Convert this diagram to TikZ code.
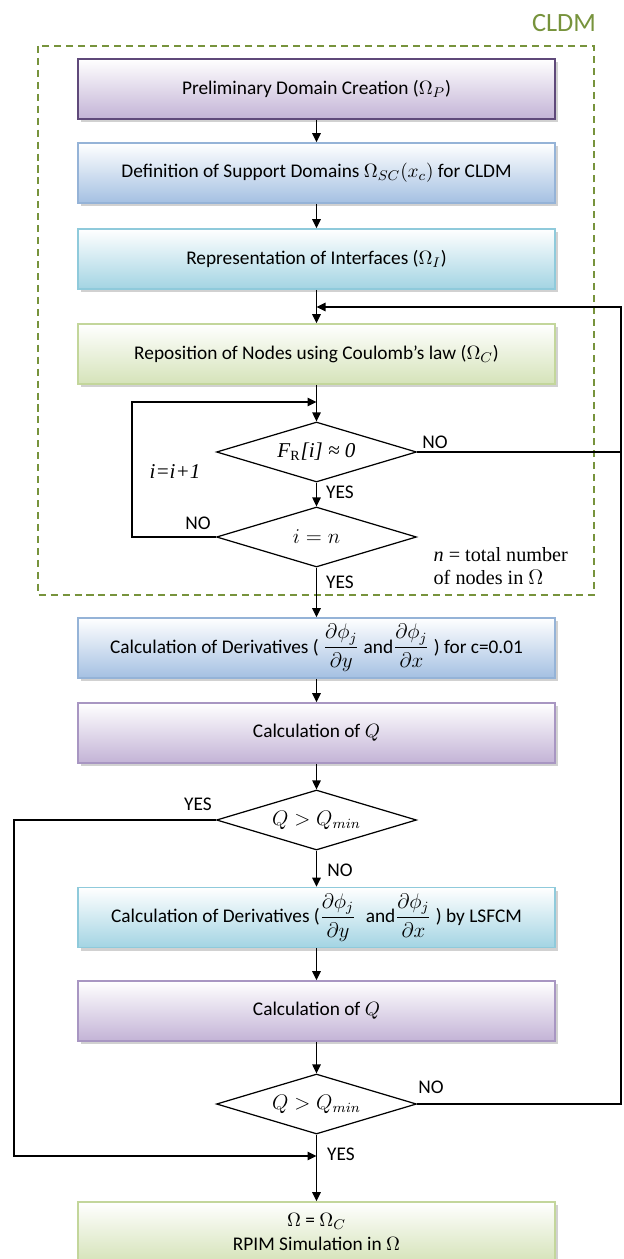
\documentclass[tikz,border=0pt]{standalone}
\usepackage{amsmath}
\usepackage{fontspec}
\setmainfont{Carlito}
\newfontfamily\tnr{Liberation Serif}
\usetikzlibrary{shapes.geometric,arrows.meta,shadows}

\definecolor{cldmgreen}{HTML}{77933C}
\definecolor{purplefill}{HTML}{C3B3D6}
\definecolor{purpleline}{HTML}{5F497A}
\definecolor{purplelight}{HTML}{A896C2}
\definecolor{bluefill}{HTML}{A4C0E2}
\definecolor{blueline}{HTML}{95B3D7}
\definecolor{cyanfill}{HTML}{A3D4E3}
\definecolor{cyanline}{HTML}{8FCADB}
\definecolor{greenfill}{HTML}{D5E3B9}
\definecolor{greenline}{HTML}{C3D69B}

\newcommand{\dphi}[1]{{\large$\dfrac{\partial\phi_j}{\partial #1}$}}

\begin{document}
\begin{tikzpicture}[
    >={Triangle[length=1.8mm,width=1.7mm]},
    line width=0.7pt,
    stepbox/.style={rectangle, draw, minimum width=9.54cm, minimum height=1.2cm, text centered, line width=0.9pt,
        font=\fontsize{11}{13}\selectfont,
        drop shadow={shadow xshift=0.5mm, shadow yshift=-0.6mm, fill=black!40, opacity=0.45}},
    purplebox/.style={stepbox, draw=purplelight, top color=white, bottom color=purplefill},
    bluebox/.style={stepbox, draw=blueline, top color=white, bottom color=bluefill},
    cyanbox/.style={stepbox, draw=cyanline, top color=white, bottom color=cyanfill},
    greenbox/.style={stepbox, draw=greenline, top color=white, bottom color=greenfill},
    decision/.style={diamond, draw, aspect=3.33, minimum width=4cm, minimum height=1.2cm, inner sep=0pt, font=\large},
    answer/.style={inner sep=0pt, font=\fontsize{11}{13}\selectfont}
]
    \useasboundingbox (0,0) rectangle (12.46,-25.18);

    % CLDM frame
    \draw[cldmgreen, line width=1.3pt, dash pattern=on 4pt off 2.8pt] (0.76,-0.92) rectangle (11.88,-11.9);
    \node[cldmgreen, font=\fontsize{15}{18}\selectfont] (cldm) at (11.28,-0.46) {CLDM};

    % Process boxes
    \node[purplebox, draw=purpleline] (box1) at (6.33,-1.78) {Preliminary Domain Creation ($\Omega_P$)};
    \node[bluebox] (box2) at (6.33,-3.46) {Definition of Support Domains $\Omega_{SC}(x_c)$ for CLDM};
    \node[cyanbox] (box3) at (6.33,-5.18) {Representation of Interfaces ($\Omega_I$)};
    \node[greenbox] (box4) at (6.33,-7.08) {Reposition of Nodes using Coulomb’s law ($\Omega_C$)};

    % Decision nodes
    \node[decision] (dia1) at (6.33,-9.04) {{\tnr\itshape F\textsubscript{\upshape R}[i] ≈ 0}};
    \node[decision] (dia2) at (6.33,-10.74) {$i = n$};

    \node[bluebox] (box5) at (6.33,-12.96) {Calculation of Derivatives ( \dphi{y} and\dphi{x} ) for c=0.01};
    \node[purplebox] (box6) at (6.33,-14.66) {Calculation of $Q$};
    \node[decision] (dia3) at (6.33,-16.40) {$Q > Q_{min}$};
    \node[cyanbox] (box7) at (6.33,-18.35) {Calculation of Derivatives (\dphi{y}\; and\dphi{x} ) by LSFCM};
    \node[purplebox] (box8) at (6.33,-20.22) {Calculation of $Q$};
    \node[decision] (dia4) at (6.33,-22.08) {$Q > Q_{min}$};
    \node[greenbox, align=center] (box9) at (6.33,-24.64) {$\Omega$ = $\Omega_C$\\[1pt] RPIM Simulation in $\Omega$};

    % Labels
    \node[answer] (no1) at (8.70,-8.84) {NO};
    \node[answer] (yes1) at (6.80,-9.84) {YES};
    \node[answer] (no2) at (3.96,-10.46) {NO};
    \node[answer, font=\tnr\itshape\fontsize{12}{14}\selectfont] (incr) at (3.50,-9.44) {i=i+1};
    \node[answer] (yes2) at (6.80,-11.64) {YES};
    \node[answer, anchor=west, align=left, font=\tnr\fontsize{11.5}{13}\selectfont] (note) at (8.66,-11.33) {\textit{n} = total number\\of nodes in $\Omega$};
    \node[answer] (yes3) at (3.96,-16.08) {YES};
    \node[answer] (no3) at (6.80,-17.40) {NO};
    \node[answer] (no4) at (8.62,-21.74) {NO};
    \node[answer] (yes4) at (6.82,-23.08) {YES};

    % Turning points
    \coordinate (merge) at (6.33,-6.14);
    \coordinate (rtop) at (12.42,-6.14);
    \coordinate (rmid) at (12.42,-9.04);
    \coordinate (rbot) at (12.42,-22.08);
    \coordinate (loopin) at (6.33,-8.04);
    \coordinate (lloopt) at (2.64,-8.04);
    \coordinate (lloopb) at (2.64,-10.74);
    \coordinate (yesin) at (6.33,-23.12);
    \coordinate (ltop) at (0.28,-16.40);
    \coordinate (lbot) at (0.28,-23.12);

    % Main flow
    \draw[->] (box1) -- (box2);
    \draw[->] (box2) -- (box3);
    \draw[->] (box3) -- (box4);
    \draw[->] (box4) -- (dia1);
    \draw[->] (dia1) -- (dia2);
    \draw[->] (dia2) -- (box5);
    \draw[->] (box5) -- (box6);
    \draw[->] (box6) -- (dia3);
    \draw[->] (dia3) -- (box7);
    \draw[->] (box7) -- (box8);
    \draw[->] (box8) -- (dia4);
    \draw[->] (dia4) -- (box9);

    % Loops back
    \draw (dia1.east) -- (rmid);
    \draw[->] (dia4.east) -- (rbot) -- (rtop) -- (merge);
    \draw[->] (dia2.west) -- (lloopb) -- (lloopt) -- (loopin);
    \draw[->] (dia3.west) -- (ltop) -- (lbot) -- (yesin);
\end{tikzpicture}
\end{document}
